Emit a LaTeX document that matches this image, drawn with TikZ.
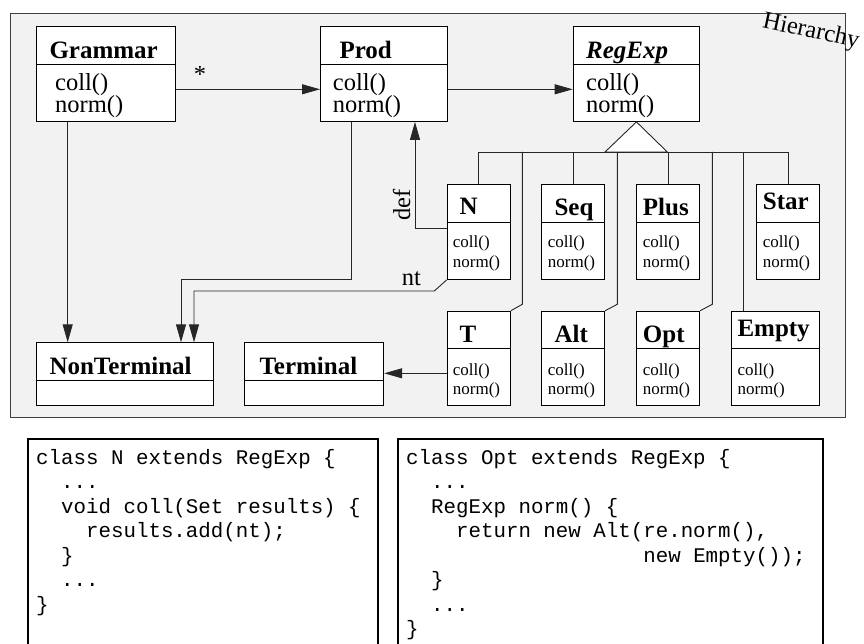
\documentclass[tikz,border=0pt]{standalone}
\usepackage{fontspec}
\setmainfont{Liberation Serif}
\setmonofont{Liberation Mono}
\usetikzlibrary{arrows.meta,calc}

% font shortcuts
\newcommand\ftitle{\fontsize{25}{25}\selectfont\bfseries}
\newcommand\fmeth{\fontsize{24.5}{24.5}\selectfont}
\newcommand\fsmall{\fontsize{17}{17}\selectfont}
\newcommand\fcode{\fontsize{20.8}{24.5}\selectfont\ttfamily}

\tikzset{
  cls/.style={draw=black, fill=white, line width=0.9pt, inner sep=0pt, anchor=north west},
  boxline/.style={line width=0.9pt},
  conn/.style={line width=0.9pt, draw=black!85},
  arr/.style={conn, -{Triangle[length=18pt,width=10pt]}},
  lbl/.style={inner sep=0pt, anchor=base west},
  codebox/.style={line width=2pt},
}

% a class box: name, left, top, width, height, depth of the divider
\newcommand\umlbox[6]{%
  \node[cls, minimum width=#4pt, minimum height=#5pt] (#1) at (#2,#3) {};
  \draw[boxline] ($(#1.north west)+(0,#6)$) -- ($(#1.north east)+(0,#6)$);
}

\begin{document}
\begin{tikzpicture}[x=1pt, y=-1pt]
\useasboundingbox (0,0) rectangle (864,644);

% package frame
\draw[fill=black!5, draw=black!75, line width=0.9pt] (10.7,13.5) rectangle (845,417);

% class boxes
\umlbox{grammar}{35.7}{26}{139.3}{95}{38}
\umlbox{prod}{320}{26}{126.7}{95}{38}
\umlbox{regexp}{572.7}{26}{126.6}{95}{38}
\umlbox{n}{446.7}{184}{63.3}{95}{38.3}
\umlbox{seq}{541}{184}{63.3}{95}{38.3}
\umlbox{plus}{636}{184}{63.3}{95}{38.3}
\umlbox{star}{756}{184}{63.3}{95}{38.3}
\umlbox{t}{446.7}{310.7}{63.3}{94.3}{37.6}
\umlbox{alt}{541}{310.7}{63.3}{94.3}{37.6}
\umlbox{opt}{636}{310.7}{63.3}{94.3}{37.6}
\umlbox{empty}{731}{310.7}{88.3}{94.3}{37.6}
\umlbox{nonterminal}{35.7}{342.3}{177}{62.7}{37.7}
\umlbox{terminal}{244.3}{342.3}{139}{62.7}{37.7}

% helper levels used by the connectors
\coordinate (yA) at (0,89.3);
\coordinate (xG) at (67.7,0);
\coordinate (p1) at (351.7,279);
\coordinate (p2) at (181,279);
\coordinate (p3) at (434.3,291);
\coordinate (p4) at (194,291);
\coordinate (p5) at (415,228.3);
\coordinate (p6) at (0,373.3);
\coordinate (bus) at (0,152);
\coordinate (kneeT) at (522.3,304.3);
\coordinate (kneeA) at (617.3,304.3);
\coordinate (kneeO) at (712.3,304.3);
\coordinate (xE) at (743.3,0);

% connectors
\draw[arr] (grammar.east |- yA) -- (prod.west |- yA);
\draw[arr] (prod.east |- yA) -- (regexp.west |- yA);
\draw[arr] (grammar.south -| xG) -- (nonterminal.north -| xG);
\draw[arr] (prod.south -| p1) -- (p1) -- (p2) -- (nonterminal.north -| p2);
\draw[arr] (n.south west) -- (p3) -- (p4) -- (nonterminal.north -| p4);
\draw[arr] (n.west |- p5) -- (p5) -- (prod.south -| p5);
\draw[arr] (t.west |- p6) -- (terminal.east |- p6);

% generalisation tree
\draw[conn] (n.north |- bus) -- (star.north |- bus);
\draw[conn] (n.north |- bus) -- (n.north);
\draw[conn] (seq.north |- bus) -- (seq.north);
\draw[conn] (plus.north |- bus) -- (plus.north);
\draw[conn] (star.north |- bus) -- (star.north);
\draw[conn] (kneeT |- bus) -- (kneeT) -- (t.north east);
\draw[conn] (kneeA |- bus) -- (kneeA) -- (alt.north east);
\draw[conn] (kneeO |- bus) -- (kneeO) -- (opt.north east);
\draw[conn] (xE |- bus) -- (empty.north -| xE);
\draw[conn, fill=white] (regexp.south) -- (605,152) -- (667.3,152) -- cycle;

% class names
\node[lbl, font=\ftitle] (grammar-name) at (49.3,58.3) {Grammar};
\node[lbl, font=\ftitle] (prod-name) at (339.3,58.3) {Prod};
\node[lbl, font=\ftitle\itshape] (regexp-name) at (586,58.3) {RegExp};
\node[lbl, font=\ftitle] (n-name) at (459.3,215) {N};
\node[lbl, font=\ftitle] (seq-name) at (554.3,215.5) {Seq};
\node[lbl, font=\ftitle] (plus-name) at (642.7,215.5) {Plus};
\node[lbl, font=\ftitle] (star-name) at (762.7,210) {Star};
\node[lbl, font=\ftitle] (t-name) at (459.3,342.3) {T};
\node[lbl, font=\ftitle] (alt-name) at (554.3,342.3) {Alt};
\node[lbl, font=\ftitle] (opt-name) at (642.7,342.3) {Opt};
\node[lbl, font=\ftitle] (empty-name) at (737.3,336.7) {Empty};
\node[lbl, font=\ftitle] (nonterminal-name) at (49.3,374) {NonTerminal};
\node[lbl, font=\ftitle] (terminal-name) at (259.3,374) {Terminal};

% operations
\foreach \c/\x in {grammar/55, prod/332.7, regexp/586} {
  \node[lbl, font=\fmeth] (\c-coll) at (\x,90.7) {coll()};
  \node[lbl, font=\fmeth] (\c-norm) at (\x,112.7) {norm()};
}
\foreach \c/\x in {n/452.7, seq/547.7, plus/642.7, star/762.7} {
  \node[lbl, font=\fsmall] (\c-coll) at (\x,247.5) {coll()};
  \node[lbl, font=\fsmall] (\c-norm) at (\x,267) {norm()};
}
\foreach \c/\x in {t/452.7, alt/547.7, opt/642.7, empty/737.3} {
  \node[lbl, font=\fsmall] (\c-coll) at (\x,375) {coll()};
  \node[lbl, font=\fsmall] (\c-norm) at (\x,394.3) {norm()};
}

% association labels
\node[inner sep=0pt, font=\fmeth] (mult) at (200,74) {*};
\node[inner sep=0pt, font=\fmeth, rotate=90] (def) at (401.7,205) {def};
\node[lbl, font=\fmeth] (nt) at (401.7,285.5) {nt};
\node[inner sep=0pt, font=\fmeth, rotate=-12] (hier) at (811,32) {Hierarchy};

% code listings
\draw[codebox] (27.7,646) -- (27.7,439.3) -- (377.7,439.3) -- (377.7,646);
\draw[codebox] (397.7,646) -- (397.7,439.3) -- (822.7,439.3) -- (822.7,646);
\foreach \d/\s [count=\i] in {
  0/{class N extends RegExp \{},
  2/{...},
  2/{void coll(Set results) \{},
  4/{results.add(nt);},
  2/{\}},
  2/{...},
  0/{\}}} {
  \node[lbl, font=\fcode] (codeN-\i) at (36+\d*12.48, 464+\i*24.5-24.5) {\s};
}
\foreach \d/\s [count=\i] in {
  0/{class Opt extends RegExp \{},
  2/{...},
  2/{RegExp norm() \{},
  4/{return new Alt(re.norm(),},
  19/{new Empty());},
  2/{\}},
  2/{...},
  0/{\}}} {
  \node[lbl, font=\fcode] (codeO-\i) at (406+\d*12.48, 464+\i*24.5-24.5) {\s};
}
\end{tikzpicture}
\end{document}
